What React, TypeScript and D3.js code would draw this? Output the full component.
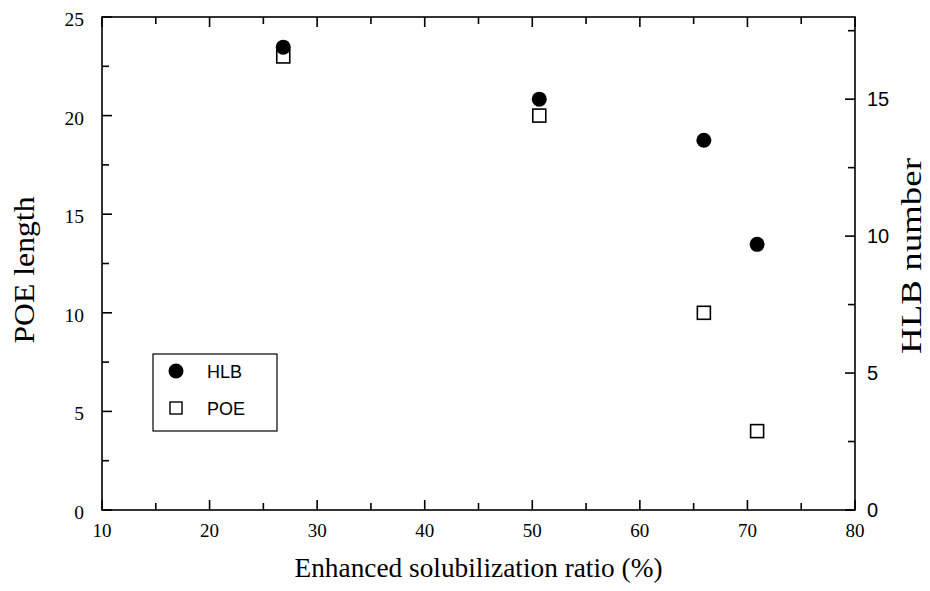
import React from "react";
import * as d3 from "d3";

const ratio = [26.85, 50.65, 65.95, 70.9];
const hlb = [16.9, 15.0, 13.5, 9.7];
const poe = [23, 20, 10, 4];
const xTicks = [10, 20, 30, 40, 50, 60, 70, 80];
const xMinor = [15, 25, 35, 45, 55, 65, 75];
const leftTicks = [0, 5, 10, 15, 20, 25];
const leftMinor = [2.5, 7.5, 12.5, 17.5, 22.5];
const rightTicks = [0, 5, 10, 15];
const rightMinor = [2.5, 7.5, 12.5, 17.5];

const W = 930, H = 591;
const L = 102, R = 855, T = 17, B = 510;
const serif = "'Liberation Serif', 'Times New Roman', serif";
const sans = "'Liberation Sans', Arial, sans-serif";

export default function App() {
  const x = d3.scaleLinear().domain([10, 80]).range([L, R]);
  const yL = d3.scaleLinear().domain([0, 25]).range([B, T]);
  const yR = d3.scaleLinear().domain([0, 18]).range([B, T]);
  const sw = 1.6;
  return (
    <svg width={W} height={H} style={{ position: "absolute", left: 0, top: 0, background: "#fff" }}>
      <rect x={0} y={0} width={W} height={H} fill="#fff" />
      <rect x={L} y={T} width={R - L} height={B - T} fill="none" stroke="#000" strokeWidth={sw} />
      {xTicks.map((t) => (
        <g key={"x" + t}>
          <line x1={x(t)} x2={x(t)} y1={B} y2={B - 10} stroke="#000" strokeWidth={sw} />
          <line x1={x(t)} x2={x(t)} y1={T} y2={T + 10} stroke="#000" strokeWidth={sw} />
          <text x={x(t)} y={537} textAnchor="middle" fontFamily={serif} fontSize={19}>{t}</text>
        </g>
      ))}
      {xMinor.map((t) => (
        <g key={"xm" + t}>
          <line x1={x(t)} x2={x(t)} y1={B} y2={B - 7} stroke="#000" strokeWidth={sw} />
          <line x1={x(t)} x2={x(t)} y1={T} y2={T + 7} stroke="#000" strokeWidth={sw} />
        </g>
      ))}
      {leftTicks.map((t) => (
        <g key={"l" + t}>
          <line x1={L} x2={L + 10} y1={yL(t)} y2={yL(t)} stroke="#000" strokeWidth={sw} />
          <text x={84} y={yL(t) + 9} textAnchor="end" fontFamily={serif} fontSize={19.5}>{t}</text>
        </g>
      ))}
      {leftMinor.map((t) => (
        <line key={"lm" + t} x1={L} x2={L + 7} y1={yL(t)} y2={yL(t)} stroke="#000" strokeWidth={sw} />
      ))}
      {rightTicks.map((t) => (
        <g key={"r" + t}>
          <line x1={R} x2={R - 10} y1={yR(t)} y2={yR(t)} stroke="#000" strokeWidth={sw} />
          <text x={867} y={yR(t) + 7} textAnchor="start" fontFamily={sans} fontSize={20}>{t}</text>
        </g>
      ))}
      {rightMinor.map((t) => (
        <line key={"rm" + t} x1={R} x2={R - 7} y1={yR(t)} y2={yR(t)} stroke="#000" strokeWidth={sw} />
      ))}
      {ratio.map((r, i) => (
        <circle key={"c" + i} cx={x(r)} cy={yR(hlb[i])} r={7.5} fill="#000" />
      ))}
      {ratio.map((r, i) => (
        <rect key={"s" + i} x={x(r) - 6.5} y={yL(poe[i]) - 6.5} width={13} height={13} fill="none" stroke="#000" strokeWidth={1.6} />
      ))}
      <rect x={153} y={354} width={124} height={77} fill="none" stroke="#000" strokeWidth={1.2} />
      <circle cx={176} cy={371} r={7.5} fill="#000" />
      <text x={207} y={377.5} fontFamily={sans} fontSize={18}>HLB</text>
      <rect x={170} y={402} width={12} height={12} fill="none" stroke="#000" strokeWidth={1.4} />
      <text x={207} y={414.5} fontFamily={sans} fontSize={18}>POE</text>
      <text x={(L + R) / 2} y={577} textAnchor="middle" fontFamily={serif} fontSize={28} textLength={368} lengthAdjust="spacingAndGlyphs">Enhanced solubilization ratio (%)</text>
      <text transform={`translate(34, 270) rotate(-90)`} textAnchor="middle" fontFamily={serif} fontSize={30} textLength={147} lengthAdjust="spacingAndGlyphs">POE length</text>
      <text transform={`translate(921, 256) rotate(-90)`} textAnchor="middle" fontFamily={serif} fontSize={30} textLength={196} lengthAdjust="spacingAndGlyphs">HLB number</text>
    </svg>
  );
}
